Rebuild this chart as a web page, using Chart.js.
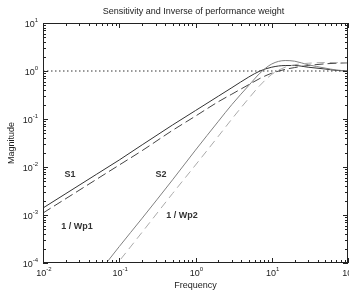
<!DOCTYPE html>
<html>
<head>
<meta charset="utf-8">
<script src="https://cdn.jsdelivr.net/npm/chart.js@4/dist/chart.umd.min.js"></script>
<style>
  html, body { margin: 0; padding: 0; background: #fff; }
  #wrap { width: 349px; height: 296px; position: relative; }
</style>
</head>
<body>
<div id="wrap"><canvas id="chart"></canvas></div>
<script>
// frequency points (rad/s) and magnitudes
const freq    = [0.01, 0.02, 0.05, 0.1, 0.2, 0.5, 1, 2, 3, 5, 7, 10, 15, 20, 30, 50, 70, 100];
const s1      = [0.0014, 0.0028, 0.007, 0.014, 0.029, 0.075, 0.15, 0.3, 0.45, 0.75, 1.0, 1.2, 1.3, 1.3, 1.2, 1.1, 1.03, 1.0];
const invWp1  = [0.0011, 0.0022, 0.0055, 0.011, 0.022, 0.058, 0.115, 0.23, 0.33, 0.52, 0.7, 0.9, 1.08, 1.18, 1.3, 1.41, 1.45, 1.48];
const s2      = [null, null, 0.000054, 0.00022, 0.00086, 0.0054, 0.0225, 0.09, 0.2, 0.5, 0.9, 1.4, 1.65, 1.6, 1.35, 1.15, 1.05, 1.0];
const invWp2  = [null, null, 0.000028, 0.00011, 0.00044, 0.0028, 0.011, 0.044, 0.1, 0.27, 0.5, 0.85, 1.2, 1.35, 1.45, 1.5, 1.5, 1.5];
const refLine = [1, 1];
const refFreq = [0.01, 100];

const xDecades = [-2, -1, 0, 1, 2];
const yDecades = [-4, -3, -2, -1, 0, 1];

const labelFont = '"Liberation Sans", Arial, sans-serif';

const pts = (xs, ys) => xs.map((x, i) => ({ x: x, y: ys[i] })).filter(p => p.y != null);

const line = (label, ys, color, dash) => ({
  label: label,
  data: pts(freq, ys),
  borderColor: color,
  borderWidth: 1,
  borderDash: dash,
  pointRadius: 0,
  cubicInterpolationMode: 'monotone',
  fill: false
});

// axes frame, inward ticks, power-of-ten labels and annotations
const axesPlugin = {
  id: 'matlabAxes',
  afterDraw(chart) {
    const ctx = chart.ctx;
    const a = chart.chartArea;
    const xs = chart.scales.x, ys = chart.scales.y;
    ctx.save();
    ctx.strokeStyle = '#222';
    ctx.lineWidth = 1;
    ctx.strokeRect(a.left + 0.5, a.top + 0.5, a.right - a.left - 1, a.bottom - a.top - 1);

    ctx.beginPath();
    xDecades.forEach(d => {
      for (let m = 1; m < 10; m++) {
        if (d === 2 && m > 1) break;
        const px = Math.round(xs.getPixelForValue(m * Math.pow(10, d))) + 0.5;
        const len = m === 1 ? 5 : 3;
        ctx.moveTo(px, a.bottom); ctx.lineTo(px, a.bottom - len);
        ctx.moveTo(px, a.top); ctx.lineTo(px, a.top + len);
      }
    });
    yDecades.forEach(d => {
      for (let m = 1; m < 10; m++) {
        if (d === 1 && m > 1) break;
        const py = Math.round(ys.getPixelForValue(m * Math.pow(10, d))) + 0.5;
        const len = m === 1 ? 5 : 3;
        ctx.moveTo(a.left, py); ctx.lineTo(a.left + len, py);
        ctx.moveTo(a.right, py); ctx.lineTo(a.right - len, py);
      }
    });
    ctx.stroke();

    ctx.fillStyle = '#222';
    const power = (exp, x, y, align) => {
      ctx.font = '9px ' + labelFont;
      const bw = ctx.measureText('10').width;
      ctx.font = '6px ' + labelFont;
      const ew = ctx.measureText(String(exp)).width;
      let left = align === 'right' ? x - bw - ew : x - (bw + ew) / 2;
      ctx.textAlign = 'left';
      ctx.textBaseline = 'middle';
      ctx.font = '9px ' + labelFont;
      ctx.fillText('10', left, y + 2);
      ctx.font = '6px ' + labelFont;
      ctx.fillText(String(exp), left + bw, y - 3);
    };
    xDecades.forEach(d => power(d, xs.getPixelForValue(Math.pow(10, d)) + 1, a.bottom + 9, 'center'));
    yDecades.forEach(d => power(d, a.left - 5, ys.getPixelForValue(Math.pow(10, d)), 'right'));

    ctx.textAlign = 'center';
    ctx.textBaseline = 'middle';
    ctx.font = '9px ' + labelFont;
    ctx.fillText('Sensitivity and Inverse of performance weight', (a.left + a.right) / 2 - 2, 12);
    ctx.fillText('Frequency', (a.left + a.right) / 2, 286);
    ctx.save();
    ctx.translate(12, (a.top + a.bottom) / 2);
    ctx.rotate(-Math.PI / 2);
    ctx.fillText('Magnitude', 0, 0);
    ctx.restore();

    ctx.font = 'bold 9px ' + labelFont;
    ctx.fillStyle = '#333';
    ctx.fillText('S1', 70, 175);
    ctx.fillText('1 / Wp1', 77, 227);
    ctx.fillText('S2', 161, 175);
    ctx.fillText('1 / Wp2', 182, 216);
    ctx.restore();
  }
};

new Chart(document.getElementById('chart'), {
  type: 'line',
  data: {
    datasets: [
      { label: 'ref', data: pts(refFreq, refLine), borderColor: '#333', borderWidth: 1, borderDash: [1.5, 2.5], pointRadius: 0 },
      line('1 / Wp2', invWp2, '#aaaaaa', [8, 5]),
      line('S2', s2, '#808080', []),
      line('1 / Wp1', invWp1, '#444444', [9, 4]),
      line('S1', s1, '#333333', [])
    ]
  },
  options: {
    responsive: true,
    maintainAspectRatio: false,
    animation: false,
    layout: { padding: { left: 43, right: 1, top: 23, bottom: 33 } },
    plugins: { legend: { display: false }, tooltip: { enabled: false } },
    scales: {
      x: { type: 'logarithmic', min: 0.01, max: 100, display: false },
      y: { type: 'logarithmic', min: 0.0001, max: 10, display: false }
    }
  },
  plugins: [axesPlugin]
});
</script>
</body>
</html>
